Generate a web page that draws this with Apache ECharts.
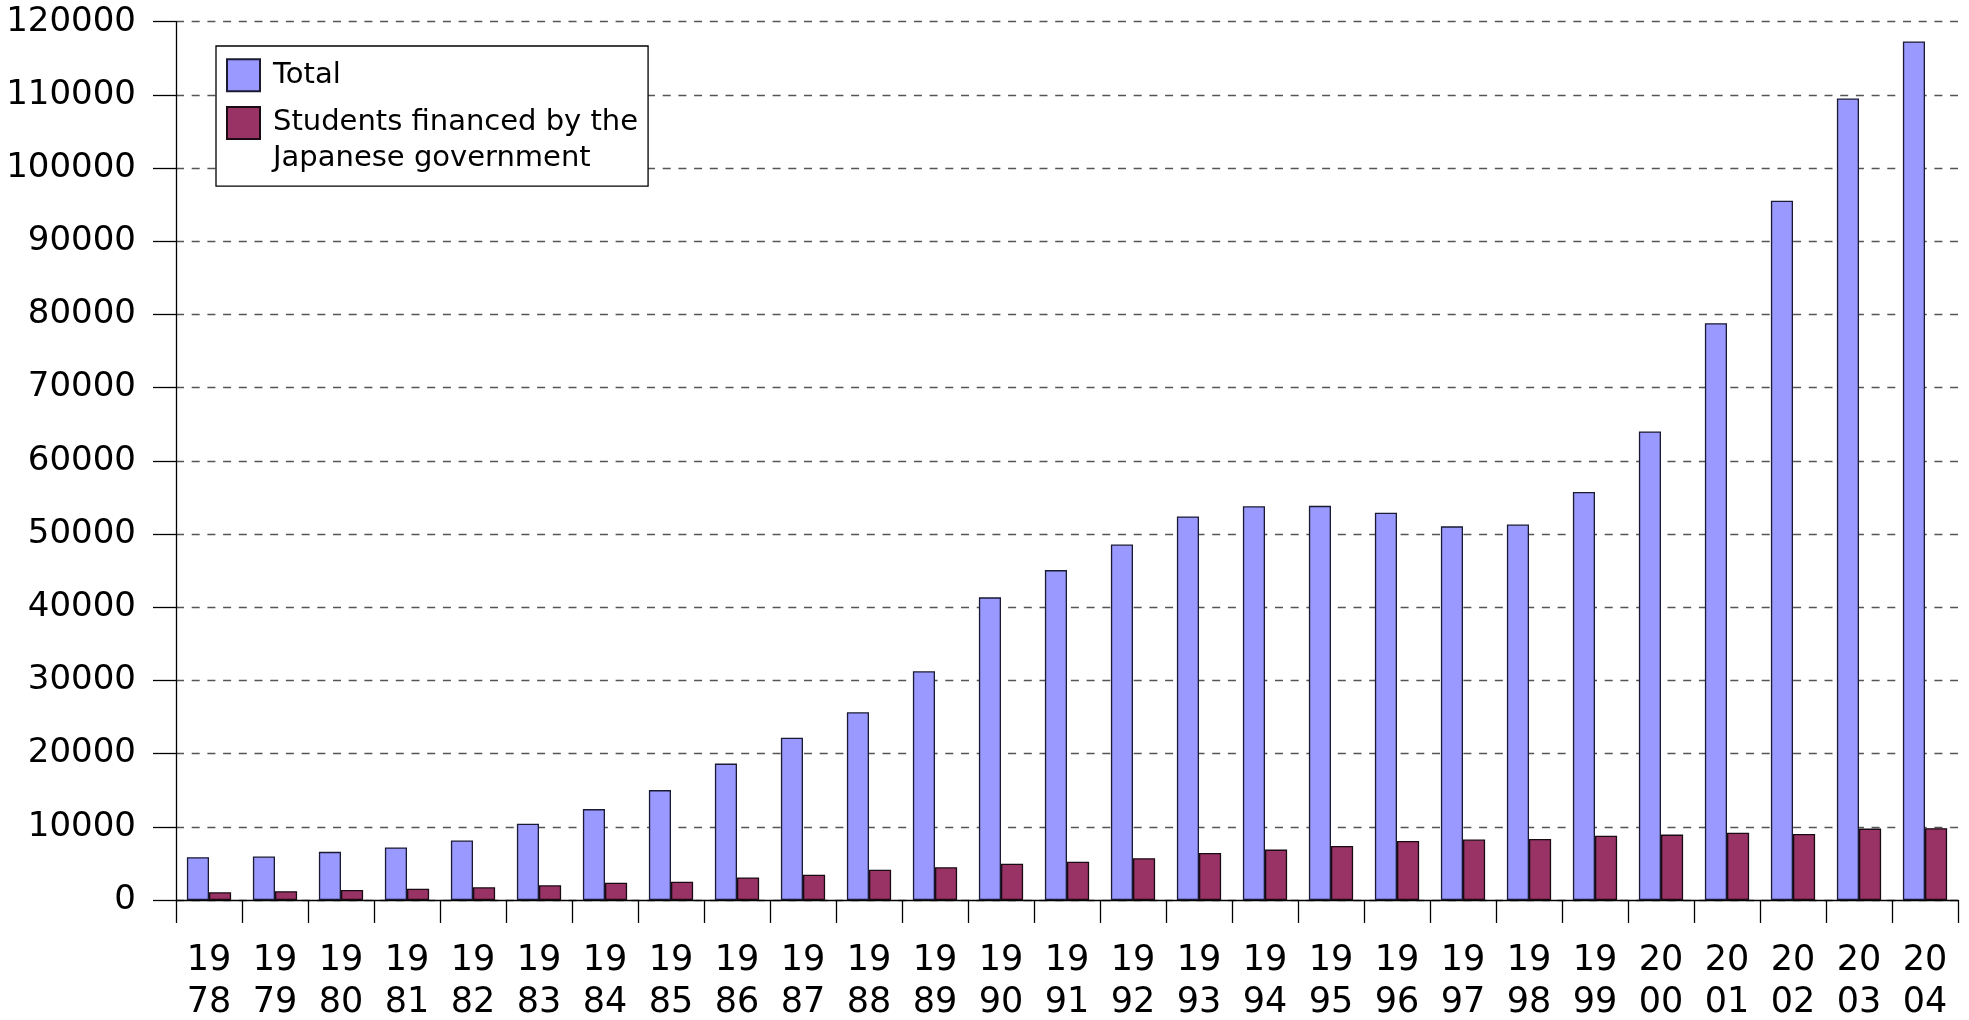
<!DOCTYPE html>
<html>
<head>
<meta charset="utf-8">
<script src="https://cdn.jsdelivr.net/npm/echarts@6/dist/echarts.min.js"></script>
<style>
html,body{margin:0;padding:0;background:#fff;}
#chart{width:1969px;height:1020px;}
</style>
</head>
<body>
<div id="chart"></div>
<script>
const years = ['1978','1979','1980','1981','1982','1983','1984','1985','1986','1987','1988','1989','1990','1991','1992','1993','1994','1995','1996','1997','1998','1999','2000','2001','2002','2003','2004'];
const totalStudents = [5849,5933,6572,7179,8116,10428,12410,15009,18631,22154,25643,31251,41347,45066,48561,52405,53787,53847,52921,51047,51298,55755,64011,78812,95550,109508,117302];
const govFinanced = [1050,1190,1360,1540,1730,2000,2345,2502,3077,3458,4118,4465,4961,5219,5699,6408,6880,7371,8051,8250,8323,8774,8930,9173,9009,9746,9804];
const seriesNames = ['Total','Students financed by the Japanese government'];
const legendLines = [['Total'],['Students financed by the','Japanese government']];
const yTicks = {min:0, max:120000, interval:10000};

const FONT = 'DejaVu Sans';
const chart = echarts.init(document.getElementById('chart'), null, {renderer:'canvas'});
chart.setOption({
  animation:false,
  backgroundColor:'#fff',
  grid:{left:176, right:11, top:21.7, bottom:120, containLabel:false},
  legend:{
    orient:'vertical', left:216, top:46,
    padding:[11,10,9,10],
    itemWidth:33, itemHeight:32, itemGap:-25,
    icon:'rect',
    borderColor:'#000', borderWidth:1.3, backgroundColor:'#fff',
    selectedMode:false,
    textStyle:{fontFamily:FONT, fontSize:29, lineHeight:36.7, color:'#000', padding:[0,0,0,8],
      rich:{
        a:{fontFamily:FONT, fontSize:29, lineHeight:36.7, color:'#000'},
        s:{fontFamily:FONT, fontSize:4, lineHeight:35, color:'#000'}
      }},
    formatter:function(n){
      const lines = legendLines[seriesNames.indexOf(n)];
      if (lines.length === 1) return '{a|' + lines[0] + '}';
      return '{s| }\n' + lines.map(function(l){ return '{a|' + l + '}'; }).join('\n');
    },
    data:seriesNames
  },
  xAxis:{
    type:'category', data:years,
    axisLine:{lineStyle:{color:'#000', width:1.3}},
    axisTick:{show:true, inside:false, length:23, alignWithLabel:false, lineStyle:{color:'#000', width:1.3}},
    axisLabel:{fontFamily:FONT, fontSize:35, color:'#000', margin:40, interval:0,
      rich:{a:{fontFamily:FONT, fontSize:35, lineHeight:41.7, color:'#000'}},
      formatter:function(v){ return '{a|' + v.slice(0,2) + '}\n{a|' + v.slice(2) + '}'; }},
    splitLine:{show:false}
  },
  yAxis:{
    type:'value', min:yTicks.min, max:yTicks.max, interval:yTicks.interval,
    axisLine:{show:true, lineStyle:{color:'#000', width:1.3}},
    axisTick:{show:true, inside:false, length:23, lineStyle:{color:'#000', width:1.3}},
    axisLabel:{fontFamily:FONT, fontSize:34, color:'#000', margin:40,
      formatter:function(v){ return String(v); }},
    splitLine:{show:true, lineStyle:{color:'#555', width:1.3, type:[8,7.7]}}
  },
  series:[
    {name:seriesNames[0], type:'bar', data:totalStudents, barGap:'0%', barCategoryGap:'33%',
     itemStyle:{color:'#9999ff', borderColor:'#1a1a33', borderWidth:1.3}},
    {name:seriesNames[1], type:'bar', data:govFinanced, barGap:'0%', barCategoryGap:'33%',
     itemStyle:{color:'#993366', borderColor:'#1a0a12', borderWidth:1.3}}
  ]
});
</script>
</body>
</html>
